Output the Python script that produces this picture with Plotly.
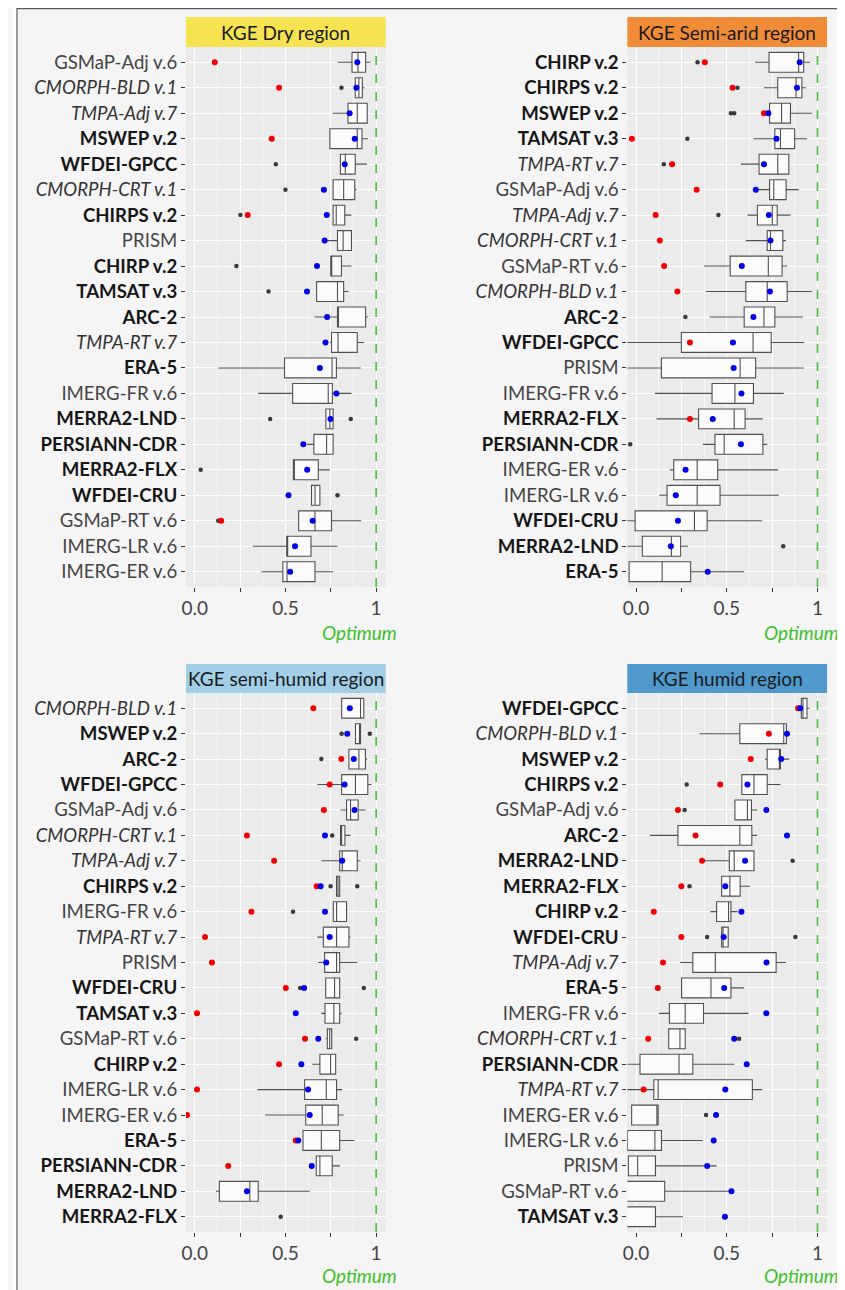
import plotly.graph_objects as go

# ---------------- DATA ----------------
DRY_NAMES = ["GSMaP-Adj v.6", "CMORPH-BLD v.1", "TMPA-Adj v.7", "MSWEP v.2", "WFDEI-GPCC",
             "CMORPH-CRT v.1", "CHIRPS v.2", "PRISM", "CHIRP v.2", "TAMSAT v.3", "ARC-2",
             "TMPA-RT v.7", "ERA-5", "IMERG-FR v.6", "MERRA2-LND", "PERSIANN-CDR", "MERRA2-FLX",
             "WFDEI-CRU", "GSMaP-RT v.6", "IMERG-LR v.6", "IMERG-ER v.6"]
DRY_LO = [0.79, 0.885, 0.76, 0.745, 0.803, 0.763, 0.763, 0.727, 0.75, 0.672, 0.66, 0.745, 0.13,
          0.35, 0.723, 0.62, 0.544, 0.644, 0.573, 0.32, 0.367]
DRY_Q1 = [0.867, 0.885, 0.845, 0.745, 0.803, 0.763, 0.763, 0.787, 0.75, 0.672, 0.787, 0.754, 0.495,
          0.54, 0.723, 0.657, 0.544, 0.644, 0.573, 0.507, 0.486]
DRY_MED = [0.90, 0.905, 0.896, 0.896, 0.83, 0.821, 0.78, 0.818, 0.752, 0.787, 0.79, 0.79, 0.757,
           0.736, 0.745, 0.727, 0.546, 0.663, 0.663, 0.509, 0.509]
DRY_Q3 = [0.942, 0.924, 0.951, 0.922, 0.885, 0.882, 0.827, 0.864, 0.809, 0.821, 0.942, 0.896, 0.781,
          0.759, 0.763, 0.763, 0.681, 0.69, 0.754, 0.641, 0.663]
DRY_HI = [0.969, 0.936, 0.951, 0.955, 0.949, 0.891, 0.864, 0.864, 0.864, 0.848, 0.955, 0.933, 0.915,
          0.864, 0.763, 0.763, 0.745, 0.69, 0.918, 0.787, 0.763]
DRY_RED = [0.111, 0.465, None, 0.425, None, None, 0.292, None, None, None, None, None, None, None,
           None, None, None, None, 0.146, None, None]
DRY_BLUE = [0.896, 0.891, 0.854, 0.882, 0.827, 0.712, 0.728, 0.716, 0.674, 0.619, 0.73, 0.721, 0.69,
            0.781, 0.748, 0.599, 0.62, 0.517, 0.65, 0.553, 0.526]
DRY_OUT = [[], [0.809], [], [0.42], [0.447], [0.5], [0.252], [], [0.23], [0.407], [], [], [], [],
           [0.416, 0.86], [], [0.033], [0.787], [0.13], [], []]

SA_NAMES = ["CHIRP v.2", "CHIRPS v.2", "MSWEP v.2", "TAMSAT v.3", "TMPA-RT v.7", "GSMaP-Adj v.6",
            "TMPA-Adj v.7", "CMORPH-CRT v.1", "GSMaP-RT v.6", "CMORPH-BLD v.1", "ARC-2", "WFDEI-GPCC",
            "PRISM", "IMERG-FR v.6", "MERRA2-FLX", "PERSIANN-CDR", "IMERG-ER v.6", "IMERG-LR v.6",
            "WFDEI-CRU", "MERRA2-LND", "ERA-5"]
SA_LO = [0.656, 0.705, 0.736, 0.647, 0.578, 0.66, 0.614, 0.605, 0.374, 0.386, 0.406, -0.08, -0.08,
         0.104, 0.113, 0.368, 0.186, 0.128, -0.08, -0.08, -0.038]
SA_Q1 = [0.733, 0.781, 0.736, 0.765, 0.678, 0.736, 0.669, 0.723, 0.519, 0.605, 0.596, 0.25, 0.14,
         0.419, 0.345, 0.435, 0.208, 0.171, -0.005, 0.035, -0.038]
SA_MED = [0.896, 0.882, 0.802, 0.796, 0.781, 0.759, 0.751, 0.741, 0.729, 0.723, 0.705, 0.645, 0.574,
          0.545, 0.541, 0.486, 0.337, 0.337, 0.322, 0.195, 0.144]
SA_Q3 = [0.924, 0.914, 0.851, 0.874, 0.842, 0.827, 0.778, 0.809, 0.805, 0.833, 0.765, 0.745, 0.659,
         0.647, 0.601, 0.699, 0.45, 0.463, 0.392, 0.246, 0.301]
SA_HI = [0.96, 0.936, 0.969, 0.942, 0.845, 0.896, 0.851, 0.827, 0.833, 0.969, 0.92, 0.927, 0.924,
         0.814, 0.699, 0.723, 0.783, 0.787, 0.696, 0.286, 0.596]
SA_RED = [0.379, 0.532, 0.705, -0.023, 0.199, 0.334, 0.108, 0.131, 0.155, 0.228, None, 0.297, None,
          None, 0.297, None, None, None, None, None, None]
SA_BLUE = [0.902, 0.887, 0.729, 0.774, 0.705, 0.66, 0.732, 0.741, 0.583, 0.738, 0.647, 0.534, 0.538,
           0.581, 0.423, 0.578, 0.273, 0.219, 0.231, 0.192, 0.395]
SA_OUT = [[0.339], [0.559], [0.523, 0.541], [0.283], [0.153], [], [0.454], [], [], [], [0.272], [],
          [], [], [], [-0.032], [], [], [], [0.811], []]

SH_NAMES = ["CMORPH-BLD v.1", "MSWEP v.2", "ARC-2", "WFDEI-GPCC", "GSMaP-Adj v.6", "CMORPH-CRT v.1",
            "TMPA-Adj v.7", "CHIRPS v.2", "IMERG-FR v.6", "TMPA-RT v.7", "PRISM", "WFDEI-CRU",
            "TAMSAT v.3", "GSMaP-RT v.6", "CHIRP v.2", "IMERG-LR v.6", "IMERG-ER v.6", "ERA-5",
            "PERSIANN-CDR", "MERRA2-LND", "MERRA2-FLX"]
SH_LO = [0.81, 0.886, 0.85, 0.676, 0.804, 0.804, 0.698, 0.782, 0.764, 0.676, 0.681, 0.722, 0.698,
         0.722, 0.648, 0.346, 0.388, 0.597, 0.670, 0.117, None]
SH_Q1 = [0.81, 0.886, 0.85, 0.81, 0.837, 0.804, 0.799, 0.782, 0.764, 0.709, 0.716, 0.722, 0.718,
         0.731, 0.69, 0.606, 0.612, 0.597, 0.670, 0.136, None]
SH_MED = [0.914, 0.908, 0.905, 0.886, 0.859, 0.81, 0.813, 0.79, 0.782, 0.782, 0.782, 0.771, 0.767,
          0.744, 0.749, 0.725, 0.703, 0.698, 0.690, 0.304, None]
SH_Q3 = [0.932, 0.914, 0.941, 0.954, 0.901, 0.828, 0.896, 0.799, 0.837, 0.85, 0.799, 0.799, 0.799,
         0.755, 0.777, 0.782, 0.791, 0.799, 0.758, 0.35, None]
SH_HI = [0.932, 0.914, 0.95, 0.974, 0.941, 0.859, 0.914, 0.799, 0.837, 0.859, 0.896, 0.799, 0.81,
         0.755, 0.777, 0.813, 0.822, 0.881, 0.80, 0.634, None]
SH_RED = [0.654, None, 0.808, 0.744, 0.712, 0.288, 0.438, 0.672, 0.313, 0.057, 0.095, 0.502, 0.013,
          0.608, 0.465, 0.013, -0.042, 0.557, 0.185, None, None]
SH_BLUE = [0.855, 0.841, 0.877, 0.826, 0.881, 0.718, 0.813, 0.694, 0.718, 0.744, 0.725, 0.603,
           0.557, 0.681, 0.588, 0.625, 0.634, 0.571, 0.645, 0.288, None]
SH_OUT = [[], [0.81, 0.965], [0.698], [], [], [0.758], [], [0.749, 0.896], [0.542], [], [],
          [0.581, 0.932], [], [0.89], [], [], [], [], [], [], [0.474]]

HU_NAMES = ["WFDEI-GPCC", "CMORPH-BLD v.1", "MSWEP v.2", "CHIRPS v.2", "GSMaP-Adj v.6", "ARC-2",
            "MERRA2-LND", "MERRA2-FLX", "CHIRP v.2", "WFDEI-CRU", "TMPA-Adj v.7", "ERA-5",
            "IMERG-FR v.6", "CMORPH-CRT v.1", "PERSIANN-CDR", "TMPA-RT v.7", "IMERG-ER v.6",
            "IMERG-LR v.6", "PRISM", "GSMaP-RT v.6", "TAMSAT v.3"]
HU_LO = [0.911, 0.35, 0.71, 0.583, 0.545, 0.077, 0.364, 0.472, 0.41, 0.472, 0.244, 0.251, 0.126,
         0.18, -0.08, -0.08, -0.024, -0.047, -0.042, -0.08, -0.08]
HU_Q1 = [0.911, 0.572, 0.723, 0.583, 0.545, 0.231, 0.514, 0.472, 0.444, 0.472, 0.313, 0.251, 0.184,
         0.18, 0.022, 0.098, -0.024, -0.047, -0.042, -0.08, -0.08]
HU_MED = [0.92, 0.814, 0.79, 0.65, 0.614, 0.572, 0.541, 0.517, 0.51, 0.48, 0.437, 0.413, 0.271,
          0.242, 0.237, 0.122, 0.115, 0.104, 0.009, -0.06, -0.06]
HU_Q3 = [0.942, 0.829, 0.796, 0.723, 0.636, 0.638, 0.65, 0.574, 0.523, 0.508, 0.772, 0.523, 0.372,
         0.271, 0.313, 0.641, 0.122, 0.14, 0.107, 0.158, 0.107]
HU_HI = [0.956, 0.829, 0.845, 0.796, 0.668, 0.668, 0.65, 0.628, 0.56, 0.508, 0.827, 0.596, 0.619,
         0.271, 0.541, 0.696, 0.122, 0.368, 0.444, 0.523, 0.259]
HU_RED = [0.893, 0.732, 0.632, 0.464, 0.231, 0.328, 0.364, 0.25, 0.098, 0.25, 0.149, 0.12, None,
          0.067, None, 0.042, None, None, None, None, None]
HU_BLUE = [0.905, 0.832, 0.8, 0.614, 0.718, 0.832, 0.601, 0.492, 0.581, 0.483, 0.719, 0.486, 0.718,
           0.541, 0.61, 0.492, 0.441, 0.428, 0.392, 0.526, 0.49]
HU_OUT = [[], [], [], [0.279], [0.268], [], [0.863], [0.295], [], [0.392, 0.878], [], [], [],
          [0.568], [], [], [0.386], [], [], [], []]

TITLES = ["KGE Dry region", "KGE Semi-arid region", "KGE semi-humid region", "KGE humid region"]
X_TICKVALS = [0, 0.25, 0.5, 0.75, 1]
X_TICKTEXT = ["0.0", "", "0.5", "", "1"]

BOLD = {"MSWEP v.2", "WFDEI-GPCC", "CHIRPS v.2", "CHIRP v.2", "TAMSAT v.3", "ARC-2", "ERA-5",
        "MERRA2-LND", "PERSIANN-CDR", "MERRA2-FLX", "WFDEI-CRU"}
ITALIC = {"CMORPH-BLD v.1", "TMPA-Adj v.7", "CMORPH-CRT v.1", "TMPA-RT v.7"}

# ---------------- LAYOUT ----------------
OFF = 8                      # page body margin of the html page
W, H = 845 - OFF, 1290 - OFF
FONT = "Lato"


def fx(p):
    return (p - OFF) / W


def fy(p):
    return 1 - (p - OFF) / H


def label(n):
    if n in BOLD:
        return "<span style='color:#161616'><b>%s</b></span>" % n
    if n in ITALIC:
        return "<span style='color:#333333'><i>%s</i></span>" % n
    return "<span style='color:#444444'>%s</span>" % n


panels = [
    dict(names=DRY_NAMES, lo=DRY_LO, q1=DRY_Q1, med=DRY_MED, q3=DRY_Q3, hi=DRY_HI, red=DRY_RED,
         blue=DRY_BLUE, out=DRY_OUT, strip="#f5e352", xp=(182, 383), yp=(47, 587), sp=(17, 47), oy=632),
    dict(names=SA_NAMES, lo=SA_LO, q1=SA_Q1, med=SA_MED, q3=SA_Q3, hi=SA_HI, red=SA_RED,
         blue=SA_BLUE, out=SA_OUT, strip="#f08c38", xp=(626, 827), yp=(47, 587), sp=(17, 47), oy=632),
    dict(names=SH_NAMES, lo=SH_LO, q1=SH_Q1, med=SH_MED, q3=SH_Q3, hi=SH_HI, red=SH_RED,
         blue=SH_BLUE, out=SH_OUT, strip="#a3cfe6", xp=(182, 383), yp=(693, 1232), sp=(664, 693), oy=1275),
    dict(names=HU_NAMES, lo=HU_LO, q1=HU_Q1, med=HU_MED, q3=HU_Q3, hi=HU_HI, red=HU_RED,
         blue=HU_BLUE, out=HU_OUT, strip="#4f99cd", xp=(626, 827), yp=(693, 1232), sp=(664, 693), oy=1275),
]

fig = go.Figure()
shapes = []
annotations = []
layout_axes = {}

for i, p in enumerate(panels):
    k = "" if i == 0 else str(i + 1)
    xa, ya = "x" + k, "y" + k
    names = p["names"]
    n = len(names)
    idx = [j for j in range(n) if p["q1"][j] is not None]
    fig.add_trace(go.Box(
        y=[names[j] for j in idx],
        q1=[p["q1"][j] for j in idx], median=[p["med"][j] for j in idx],
        q3=[p["q3"][j] for j in idx], lowerfence=[p["lo"][j] for j in idx],
        upperfence=[p["hi"][j] for j in idx],
        orientation="h", fillcolor="#fbfbfb", line=dict(color="#505050", width=1.1),
        whiskerwidth=0, width=0.78, boxpoints=False, showlegend=False, hoverinfo="skip",
        xaxis=xa, yaxis=ya))
    ox, oyv = [], []
    for j in range(n):
        for v in p["out"][j]:
            ox.append(v)
            oyv.append(names[j])
    fig.add_trace(go.Scatter(x=ox, y=oyv, mode="markers", marker=dict(color="#3a3a3a", size=4.5),
                             showlegend=False, hoverinfo="skip", xaxis=xa, yaxis=ya))
    rj = [j for j in range(n) if p["red"][j] is not None]
    fig.add_trace(go.Scatter(x=[p["red"][j] for j in rj], y=[names[j] for j in rj], mode="markers",
                             marker=dict(color="#f00000", size=6), showlegend=False,
                             hoverinfo="skip", xaxis=xa, yaxis=ya))
    bj = [j for j in range(n) if p["blue"][j] is not None]
    fig.add_trace(go.Scatter(x=[p["blue"][j] for j in bj], y=[names[j] for j in bj], mode="markers",
                             marker=dict(color="#0000e6", size=6), showlegend=False,
                             hoverinfo="skip", xaxis=xa, yaxis=ya))

    layout_axes["xaxis" + k] = dict(
        domain=[fx(p["xp"][0]), fx(p["xp"][1])], anchor=ya, range=[-0.048, 1.053],
        tickmode="array", tickvals=X_TICKVALS, ticktext=X_TICKTEXT, ticks="outside", ticklen=4,
        tickcolor="#333333", tickfont=dict(family=FONT, size=19, color="#444444"),
        showgrid=True, gridcolor="#ffffff", gridwidth=1.2, zeroline=False, showline=False,
        minor=dict(tickmode="array", tickvals=[0.125, 0.375, 0.625, 0.875], showgrid=True,
                   gridcolor="#f6f6f6", gridwidth=0.6, ticks=""),
    )
    layout_axes["yaxis" + k] = dict(
        domain=[fy(p["yp"][1]), fy(p["yp"][0])], anchor=xa, type="category",
        categoryorder="array", categoryarray=names, range=[n - 0.4, -0.6],
        tickmode="array", tickvals=names, ticktext=[label(s) for s in names],
        ticks="outside", ticklen=4, tickcolor="#333333",
        tickfont=dict(family=FONT, size=18.6, color="#333333"),
        showgrid=True, gridcolor="#ffffff", gridwidth=1.2, zeroline=False, showline=False,
    )
    # optimum line
    shapes.append(dict(type="line", xref=xa, yref=ya + " domain", x0=1, x1=1, y0=0, y1=1,
                       line=dict(color="#44c23a", width=1.6, dash="dash"), layer="above"))
    # strip
    shapes.append(dict(type="rect", xref="paper", yref="paper", x0=fx(p["xp"][0]), x1=fx(p["xp"][1]),
                       y0=fy(p["sp"][1]), y1=fy(p["sp"][0]), fillcolor=p["strip"], line=dict(width=0),
                       layer="below"))
    annotations.append(dict(text=TITLES[i], xref="paper", yref="paper",
                            x=fx((p["xp"][0] + p["xp"][1]) / 2), y=fy((p["sp"][0] + p["sp"][1]) / 2),
                            xanchor="center", yanchor="middle", showarrow=False,
                            font=dict(family=FONT, size=19, color="#1a1a1a")))
    annotations.append(dict(text="<i>Optimum</i>", xref=xa, yref="paper", x=0.91, y=fy(p["oy"]),
                            xanchor="center", yanchor="middle", showarrow=False,
                            font=dict(family=FONT, size=19, color="#3cc02c")))

# page frame
shapes.append(dict(type="rect", xref="paper", yref="paper", x0=0, x1=fx(12), y0=0, y1=1,
                   fillcolor="#ffffff", line=dict(width=0), layer="below"))
shapes.append(dict(type="line", xref="paper", yref="paper", x0=fx(12), x1=1, y0=0.9995, y1=0.9995,
                   line=dict(color="#5a5a5a", width=1.2)))
shapes.append(dict(type="line", xref="paper", yref="paper", x0=fx(12), x1=fx(12), y0=0, y1=1,
                   line=dict(color="#5a5a5a", width=1.2)))

fig.update_layout(
    width=W, height=H, autosize=False, margin=dict(l=0, r=0, t=0, b=0),
    paper_bgcolor="#f5f5f5", plot_bgcolor="#ebebeb",
    font=dict(family=FONT, color="#333333"),
    shapes=shapes, annotations=annotations, **layout_axes,
)

fig.write_html("out.html")
